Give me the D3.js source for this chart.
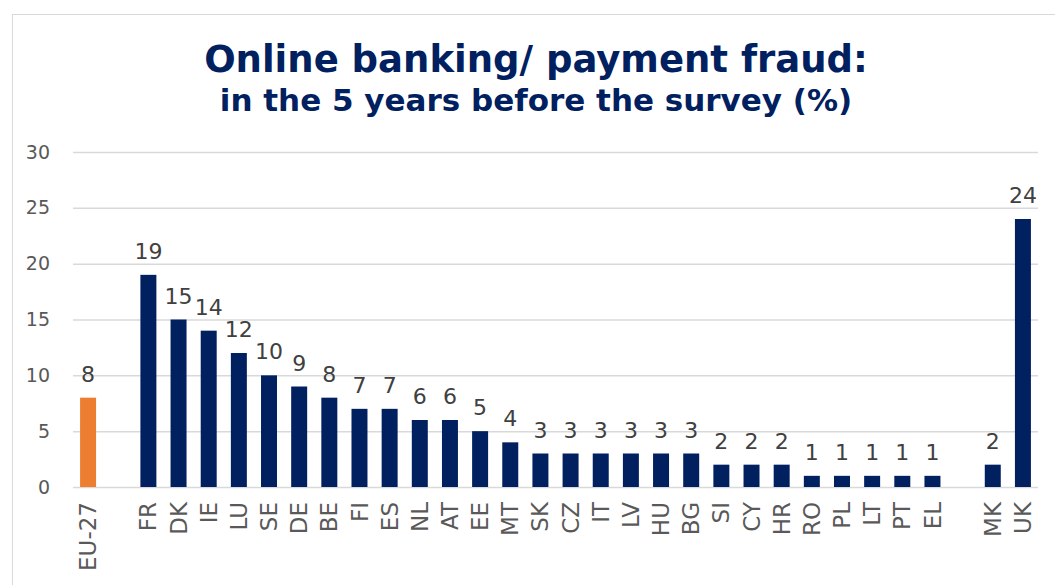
<!DOCTYPE html>
<html>
<head>
<meta charset="utf-8">
<script src="https://cdn.jsdelivr.net/npm/d3@7"></script>
<style>
  body { margin: 0; background: #fff; }
  svg { font-family: "DejaVu Sans", Verdana, sans-serif; }
</style>
</head>
<body>
<script>
var w = 1055;
var h = 585;

// Data
var euLabel = ["EU-27"];
var euValue = [8];
var members = ["FR", "DK", "IE", "LU", "SE", "DE", "BE", "FI", "ES", "NL", "AT", "EE", "MT",
  "SK", "CZ", "IT", "LV", "HU", "BG", "SI", "CY", "HR", "RO", "PL", "LT", "PT", "EL"];
var memberValues = [19, 15, 14, 12, 10, 9, 8, 7, 7, 6, 6, 5, 4, 3, 3, 3, 3, 3, 3, 2, 2, 2, 1, 1, 1, 1, 1];
var others = ["MK", "UK"];
var otherValues = [2, 24];
var yTicks = [0, 5, 10, 15, 20, 25, 30];

// build rows, blank slots between groups
var rows = [];
euLabel.forEach(function(c, i) { rows.push({ name: c, value: euValue[i], eu: true }); });
var domain = euLabel.concat(["gap1"], members, ["gap2"], others);
members.forEach(function(c, i) { rows.push({ name: c, value: memberValues[i] }); });
others.forEach(function(c, i) { rows.push({ name: c, value: otherValues[i] }); });

var svg = d3.select("body")
  .append("svg")
  .attr("width", w)
  .attr("height", h);

// chart frame
svg.append("rect")
  .attr("x", 12.5)
  .attr("y", 14.5)
  .attr("width", w + 10)
  .attr("height", h + 10)
  .attr("fill", "none")
  .attr("stroke", "#d9d9d9");

// title
svg.append("text")
  .attr("x", 536)
  .attr("y", 72)
  .attr("text-anchor", "middle")
  .attr("font-size", 37)
  .attr("font-weight", "bold")
  .attr("fill", "#002060")
  .text("Online banking/ payment fraud:");

svg.append("text")
  .attr("x", 536)
  .attr("y", 111)
  .attr("text-anchor", "middle")
  .attr("font-size", 31)
  .attr("font-weight", "bold")
  .attr("fill", "#002060")
  .text("in the 5 years before the survey (%)");

var x = d3.scaleBand()
  .domain(domain)
  .range([73, 1038])
  .paddingInner(0.47)
  .paddingOuter(0.235);

var y = d3.scaleLinear()
  .domain([0, 30])
  .range([487, 152]);

// gridlines
svg.selectAll(".grid")
  .data(yTicks)
  .enter()
  .append("line")
  .attr("x1", 73)
  .attr("x2", 1038)
  .attr("y1", function(d) { return y(d) + 0.5; })
  .attr("y2", function(d) { return y(d) + 0.5; })
  .attr("stroke", "#d9d9d9")
  .attr("stroke-width", 1.5);

// y axis labels
var yAxis = svg.append("g")
  .attr("transform", "translate(50,0)")
  .call(d3.axisLeft(y).tickValues(yTicks).tickSize(0).tickPadding(0));
yAxis.select(".domain").remove();
yAxis.selectAll("text")
  .attr("font-size", 19)
  .attr("font-family", "DejaVu Sans, Verdana, sans-serif")
  .attr("fill", "#595959");

// bars
svg.selectAll(".bar")
  .data(rows)
  .enter()
  .append("rect")
  .attr("x", function(d) { return x(d.name); })
  .attr("y", function(d) { return y(d.value); })
  .attr("width", x.bandwidth())
  .attr("height", function(d) { return y(0) - y(d.value); })
  .attr("fill", function(d) { return d.eu ? "#ED7D31" : "#002060"; });

// value labels
svg.selectAll(".val")
  .data(rows)
  .enter()
  .append("text")
  .attr("x", function(d) { return x(d.name) + x.bandwidth() / 2; })
  .attr("y", function(d) { return y(d.value) - 16; })
  .attr("text-anchor", "middle")
  .attr("font-size", 22)
  .attr("fill", "#404040")
  .text(function(d) { return d.value; });

// category labels, rotated
var xAxis = svg.append("g")
  .attr("transform", "translate(0,502)")
  .call(d3.axisBottom(x).tickValues(rows.map(function(d) { return d.name; })).tickSize(0).tickPadding(0));
xAxis.select(".domain").remove();
xAxis.selectAll("text")
  .attr("font-size", 23)
  .attr("font-family", "DejaVu Sans, Verdana, sans-serif")
  .attr("fill", "#595959")
  .attr("transform", "rotate(-90)")
  .attr("text-anchor", "end")
  .attr("x", 0)
  .attr("y", 0)
  .attr("dy", "0.35em");
</script>
</body>
</html>
